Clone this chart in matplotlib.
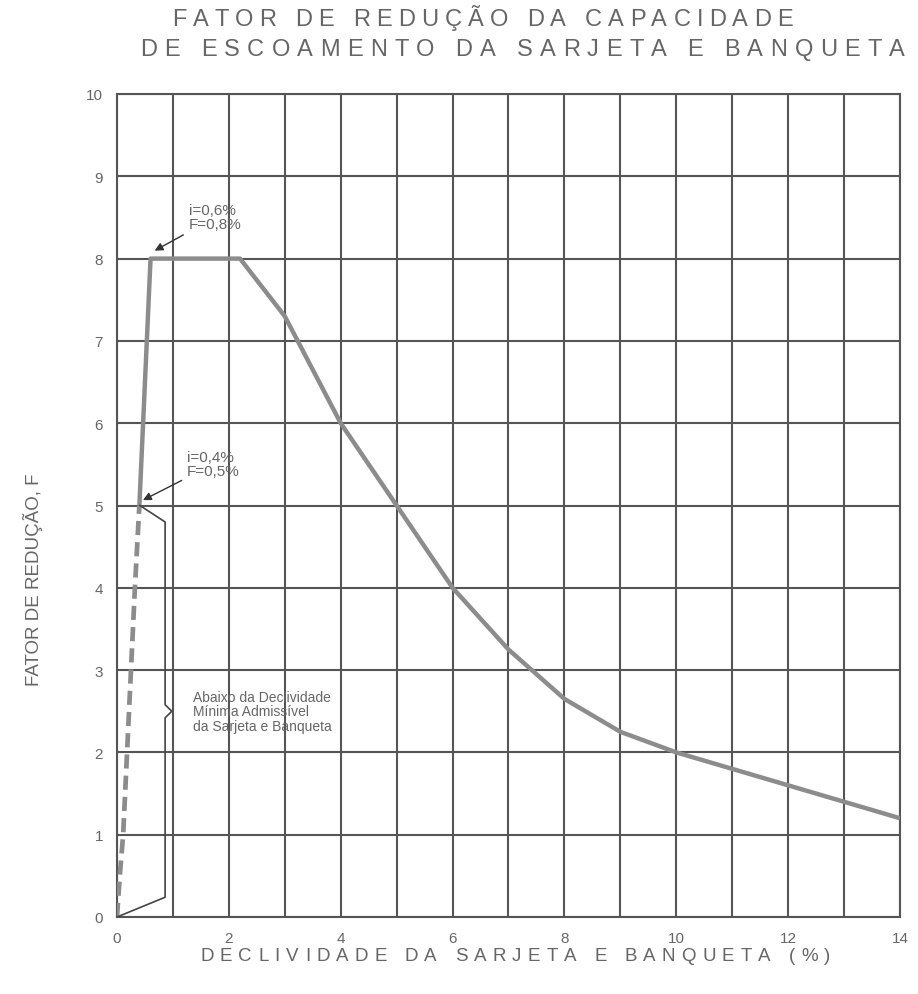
import matplotlib
matplotlib.use("Agg")
import matplotlib.pyplot as plt
from matplotlib.font_manager import FontProperties
from matplotlib.transforms import IdentityTransform

# ----------------------------
# Data
# ----------------------------

# solid curve: reduction factor F vs gutter slope (%)
slope_main = [0.4, 0.6, 2.2, 3.0, 4.0, 5.0, 6.0, 7.0, 8.0, 9.0, 10.0, 11.0, 12.0, 13.0, 14.0]
factor_main = [5.0, 8.0, 8.0, 7.3, 6.0, 5.0, 4.0, 3.25, 2.65, 2.25, 2.0, 1.8, 1.6, 1.4, 1.2]

# dashed stretch below the minimum admissible slope
slope_low = [0.0, 0.05, 0.11, 0.18, 0.25, 0.32, 0.4]
factor_low = [0.0, 0.5, 1.0, 2.0, 3.0, 4.0, 5.0]

# brace outlining the inadmissible zone
brace_x = [0.41, 0.86, 0.86, 0.98, 0.86, 0.86, 0.0]
brace_y = [5.0, 4.8, 2.58, 2.5, 2.42, 0.24, 0.0]

x_ticks = [0, 2, 4, 6, 8, 10, 12, 14]
y_ticks = list(range(0, 11))

TITLE_1 = "FATOR DE REDUÇÃO DA CAPACIDADE"
TITLE_2 = "DE ESCOAMENTO DA SARJETA E BANQUETA"
X_LABEL = "DECLIVIDADE DA SARJETA E BANQUETA (%)"
Y_LABEL = "FATOR DE REDUÇÃO, F"
NOTE_TEXT = "Abaixo da Declividade\nMínima Admissível\nda Sarjeta e Banqueta"

TEXT_GRAY = "#666666"
GRID_GRAY = "#555555"
CURVE_GRAY = "#8c8c8c"
FONT = "Liberation Sans"

W, H, DPI = 918, 995, 100


def spaced_text(fig, s, x0, x1, y, size):
    """Draw s letter-spaced so it spans pixel columns x0..x1 at pixel row y (from top)."""
    renderer = fig.canvas.get_renderer()
    prop = FontProperties(family=FONT, size=size)
    widths = [renderer.get_text_width_height_descent(ch, prop, ismath=False)[0] for ch in s]
    gap = ((x1 - x0) - sum(widths)) / (len(s) - 1)
    x = x0
    for ch, w in zip(s, widths):
        fig.text(x, H - y, ch, transform=IdentityTransform(), fontproperties=prop,
                 color=TEXT_GRAY, ha="left", va="center")
        x += w + gap


def main() -> None:
    fig = plt.figure(figsize=(W / DPI, H / DPI), dpi=DPI)
    ax = fig.add_axes([117 / W, 1 - 918 / H, (900 - 117) / W, (918 - 95) / H])

    ax.set_xlim(0, 14)
    ax.set_ylim(0, 10)
    ax.set_xticks(range(0, 15), minor=True)
    ax.set_xticks(x_ticks)
    ax.set_yticks(y_ticks)
    ax.grid(True, which="both", color=GRID_GRAY, linewidth=1.5)
    ax.set_axisbelow(True)
    ax.tick_params(which="both", length=0, labelsize=11, labelcolor=TEXT_GRAY, pad=10)
    for lbl in ax.get_xticklabels() + ax.get_yticklabels():
        lbl.set_family(FONT)
    for sp in ax.spines.values():
        sp.set_color(GRID_GRAY)
        sp.set_linewidth(1.5)

    ax.plot(slope_main, factor_main, color=CURVE_GRAY, linewidth=3.2,
            solid_capstyle="butt", zorder=3)
    ax.plot(slope_low, factor_low, color=CURVE_GRAY, linewidth=3.4,
            linestyle=(0, (3, 1.5)), zorder=3)
    ax.plot(brace_x, brace_y, color="#444444", linewidth=1.2, zorder=4)

    arrow = dict(arrowstyle="-|>", color="#333333", lw=1.0, mutation_scale=12)
    ax.annotate("i=0,6%\nF=0,8%", xy=(0.63, 8.08), xytext=(1.28, 8.5),
                fontsize=11, color=TEXT_GRAY, family=FONT, va="center",
                linespacing=1.0, arrowprops=arrow, zorder=5)
    ax.annotate("i=0,4%\nF=0,5%", xy=(0.42, 5.05), xytext=(1.25, 5.5),
                fontsize=11, color=TEXT_GRAY, family=FONT, va="center",
                linespacing=1.0, arrowprops=arrow, zorder=5)
    ax.text(1.36, 2.5, NOTE_TEXT, fontsize=10, color=TEXT_GRAY, family=FONT,
            va="center", ha="left", linespacing=1.05, zorder=5)

    spaced_text(fig, TITLE_1, 172, 793, 20, 17)
    spaced_text(fig, TITLE_2, 140, 905, 50, 17)
    spaced_text(fig, X_LABEL, 200, 830, 957, 13.5)
    fig.text(33 / W, 1 - 580 / H, Y_LABEL, rotation=90, fontsize=13.5, family=FONT,
             color=TEXT_GRAY, ha="center", va="center")

    fig.savefig("out.png", dpi=DPI, facecolor="white")


if __name__ == "__main__":
    main()
